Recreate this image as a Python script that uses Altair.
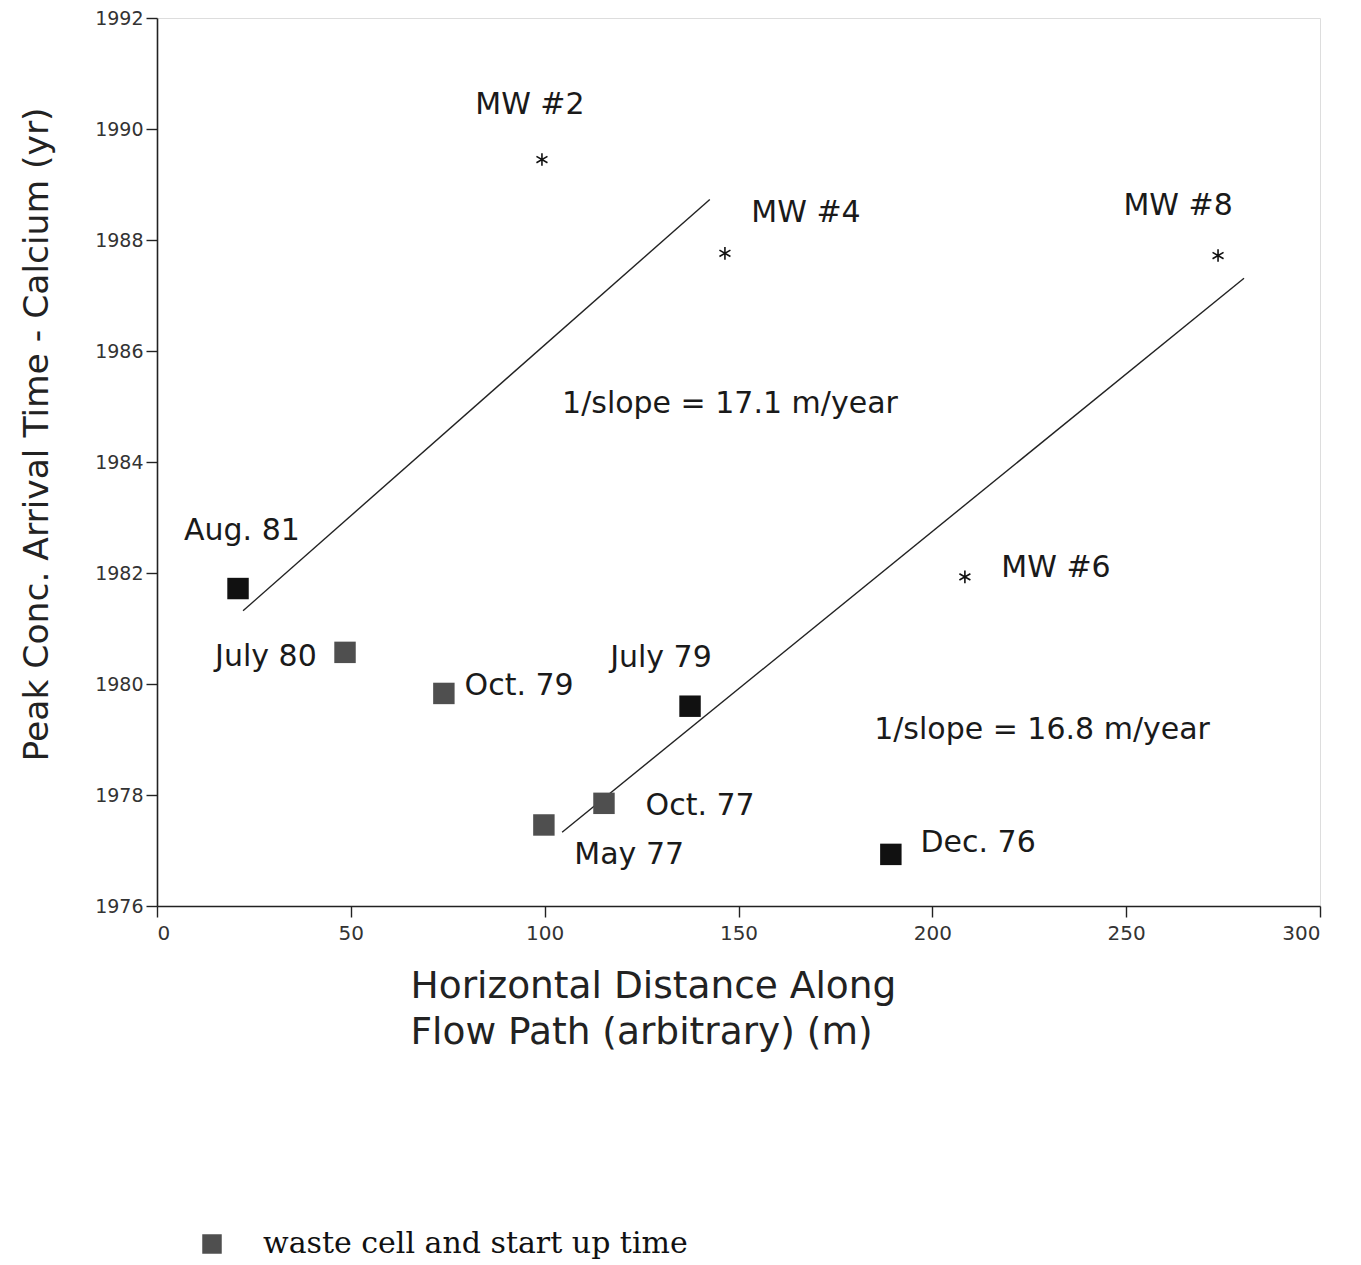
import altair as alt
import pandas as pd

# ---- data ----
sq_labels = ["Aug. 81", "July 80", "Oct. 79", "July 79", "Oct. 77", "May 77", "Dec. 76"]
sq_x = [20.9, 48.5, 74.0, 137.5, 115.3, 99.8, 189.3]
sq_y = [1981.72, 1980.57, 1979.83, 1979.60, 1977.85, 1977.46, 1976.93]
WASTE = "waste cell and start up time"
OTHER = "other"
sq_kind = [OTHER, WASTE, WASTE, OTHER, WASTE, WASTE, OTHER]

mw_names = ["MW #2", "MW #4", "MW #6", "MW #8"]
mw_x = [99.3, 146.5, 208.4, 273.7]
mw_y = [1989.45, 1987.76, 1981.93, 1987.72]

fit_id = ["A", "A", "B", "B"]
fit_x = [22.2, 142.6, 104.5, 280.4]
fit_y = [1981.32, 1988.73, 1977.33, 1987.31]

ann_text = ["MW #2", "MW #4", "MW #8", "MW #6",
            "1/slope = 17.1 m/year", "1/slope = 16.8 m/year",
            "Aug. 81", "July 80", "Oct. 79", "July 79", "Oct. 77", "May 77", "Dec. 76"]
ann_x = [96.2, 167.4, 263.4, 231.9, 147.8, 228.3,
         21.9, 28.1, 93.4, 130.0, 140.1, 121.8, 211.8]
ann_y = [1990.44, 1988.48, 1988.62, 1982.09, 1985.04, 1979.18,
         1982.76, 1980.49, 1979.97, 1980.46, 1977.80, 1976.92, 1977.13]

x_ticks = [0, 50, 100, 150, 200, 250, 300]
y_ticks = [1976, 1978, 1980, 1982, 1984, 1986, 1988, 1990, 1992]

sq_df = pd.DataFrame({"x": sq_x, "y": sq_y, "kind": sq_kind, "label": sq_labels})
mw_df = pd.DataFrame({"x": mw_x, "y": mw_y, "name": mw_names})
fit_df = pd.DataFrame({"x": fit_x, "y": fit_y, "id": fit_id})
ann_df = pd.DataFrame({"x": ann_x, "y": ann_y, "text": ann_text})

FONT = "DejaVu Sans"

xscale = alt.Scale(domain=[0, 300], nice=False, zero=False)
yscale = alt.Scale(domain=[1976, 1992], nice=False, zero=False)

xaxis = alt.Axis(
    values=x_ticks, grid=False, tickSize=11, labelPadding=6,
    labelFontSize=20, labelFont=FONT, labelColor="#333",
    domainColor="#222", tickColor="#222", domainWidth=1.6, tickWidth=1.4,
    title=["Horizontal Distance Along", "Flow Path (arbitrary) (m)"],
    titleFont=FONT, titleFontSize=37.5, titleFontWeight="normal", titleColor="#222",
    titleAlign="left", titleX=253, titleY=91, titleBaseline="alphabetic",
    titleLineHeight=46,
)
yaxis = alt.Axis(
    values=y_ticks, format="d", grid=False, tickSize=11, labelPadding=3,
    labelFontSize=19, labelFont=FONT, labelColor="#333",
    domainColor="#222", tickColor="#222", domainWidth=1.6, tickWidth=1.4,
    title="Peak Conc. Arrival Time - Calcium (yr)",
    titleFont=FONT, titleFontSize=34.5, titleFontWeight="normal", titleColor="#222",
    titleAlign="center", titleX=-110, titleY=416, titleBaseline="alphabetic",
    titleAngle=270,
)

fits = alt.Chart(fit_df).mark_line(color="#222", strokeWidth=1.4).encode(
    x=alt.X("x:Q", scale=xscale, axis=xaxis),
    y=alt.Y("y:Q", scale=yscale, axis=yaxis),
    detail="id:N",
)

squares = alt.Chart(sq_df).mark_point(
    shape="square", filled=True, size=460, opacity=1, strokeWidth=0
).encode(
    x="x:Q", y="y:Q",
    color=alt.Color(
        "kind:N",
        scale=alt.Scale(domain=[WASTE, OTHER], range=["#4f4f4f", "#111111"]),
        legend=alt.Legend(
            values=[WASTE], title=None, orient="none", legendX=40, legendY=1211,
            labelFont="DejaVu Serif", labelFontSize=30, labelColor="#111",
            labelLimit=0, symbolType="square", symbolSize=380, symbolStrokeWidth=0,
            labelOffset=36, padding=0, symbolOpacity=1,
        ),
    ),
)

ASTERISK = "M0,-1L0,1M-0.87,-0.5L0.87,0.5M-0.87,0.5L0.87,-0.5"
stars = alt.Chart(mw_df).mark_point(
    shape=ASTERISK, filled=False, size=160, color="#111", strokeWidth=1.6, opacity=1
).encode(x="x:Q", y="y:Q")

labels = alt.Chart(ann_df).mark_text(
    font=FONT, fontSize=30, color="#1a1a1a", align="center", baseline="middle"
).encode(x="x:Q", y="y:Q", text="text:N")

chart = alt.layer(fits, squares, stars, labels).properties(
    width=1163, height=888,
    autosize=alt.AutoSizeParams(type="none"),
    padding={"left": 149, "top": 10, "right": 30, "bottom": 364},
).configure_view(stroke="#222", strokeWidth=1.6).configure(background="white")

chart.save("out.html", embed_options={"renderer": "svg", "actions": False})
